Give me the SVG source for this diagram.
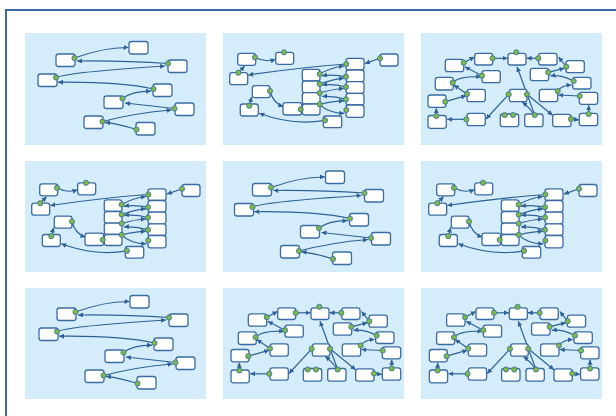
<svg xmlns="http://www.w3.org/2000/svg" xmlns:xlink="http://www.w3.org/1999/xlink" width="616" height="416" viewBox="0 0 616 416">
<style>
.bg{fill:#d5edfa}
.n{fill:#fff;stroke:#3a6ca3;stroke-width:1.3}
.d{fill:#7cbb45;stroke:#3a6ca3;stroke-width:0.8}
.e{fill:none;stroke:#2d6198;stroke-width:1.2;marker-end:url(#ah)}
</style>
<defs>
<marker id="ah" markerUnits="userSpaceOnUse" markerWidth="6" markerHeight="6" refX="5" refY="2.5" orient="auto"><path d="M0,0 L5,2.5 L0,5 z" fill="#2d6198"/></marker>

<g id="panelA">
<g id="A-edges">
<path class="e" d="M49.5,25 Q80,14 103.5,14.5"/>
<path class="e" d="M143,30.5 Q100,27.5 52,28"/>
<path class="e" d="M31,44.5 Q45,39 140,33"/>
<path class="e" d="M128.5,56 Q95,48.5 33,49.2"/>
<path class="e" d="M97.5,65.5 Q108,58 126,58.2"/>
<path class="e" d="M149.5,75.5 Q122,72.5 100,70"/>
<path class="e" d="M77.5,88.5 Q110,80 146.5,77"/>
<path class="e" d="M111.5,96.5 Q95,91 80,89.3"/>
</g>
<g id="A-n1"><rect class="n" x="104" y="8.5" width="19" height="12.5" rx="2.5"/></g>
<g id="A-n2"><rect class="n" x="31" y="21" width="19" height="12.5" rx="2.5"/><circle class="d" cx="49.5" cy="25" r="2.6"/></g>
<g id="A-n3"><rect class="n" x="143" y="27" width="19" height="12.5" rx="2.5"/><circle class="d" cx="143" cy="30.5" r="2.6"/></g>
<g id="A-n4"><rect class="n" x="13" y="41" width="19" height="12.5" rx="2.5"/><circle class="d" cx="31" cy="44.5" r="2.6"/></g>
<g id="A-n5"><rect class="n" x="128" y="51" width="19" height="12.5" rx="2.5"/><circle class="d" cx="128.5" cy="56" r="2.6"/></g>
<g id="A-n6"><rect class="n" x="79" y="63" width="19" height="12.5" rx="2.5"/><circle class="d" cx="97.5" cy="65.5" r="2.6"/></g>
<g id="A-n7"><rect class="n" x="150" y="70" width="19" height="12.5" rx="2.5"/><circle class="d" cx="149.5" cy="75.5" r="2.6"/></g>
<g id="A-n8"><rect class="n" x="59" y="83" width="19" height="12.5" rx="2.5"/><circle class="d" cx="77.5" cy="88.5" r="2.6"/></g>
<g id="A-n9"><rect class="n" x="111" y="89.5" width="19" height="12.5" rx="2.5"/><circle class="d" cx="111.5" cy="96.5" r="2.6"/></g>
</g>

<g id="panelB">
<g id="B-edges">
<path class="e" d="M32,24.3 Q42,30 52.5,26.3"/>
<path class="e" d="M15.3,39.7 L21.6,33.2"/>
<path class="e" d="M123.3,31 Q80,34 25.3,42"/>
<path class="e" d="M157,25.3 L142,30.6"/>
<path class="e" d="M96.7,41 Q108,34.5 121,33"/>
<path class="e" d="M123,43.7 Q110,41 99,42.8"/>
<path class="e" d="M96.7,51 Q110,46 121,45.3"/>
<path class="e" d="M123,54 Q110,50.5 99.2,52"/>
<path class="e" d="M96.7,60 Q110,56 121,55.5"/>
<path class="e" d="M123,66.3 Q110,62.5 99,63.5"/>
<path class="e" d="M96.7,71.3 Q110,68 121,67.8"/>
<path class="e" d="M96.7,71.3 Q105,80 121.3,80.3"/>
<path class="e" d="M47,58 Q50,70 60.3,73.7"/>
<path class="e" d="M26.3,72.7 L28.7,64"/>
<path class="e" d="M102,87.3 Q70,93 36.3,80.3"/>
</g>
<g id="B-n1"><rect class="n" x="14.7" y="20.3" width="18" height="12" rx="2.5"/><circle class="d" cx="32" cy="24.3" r="2.6"/></g>
<g id="B-n2"><rect class="n" x="52.7" y="19.3" width="18" height="12" rx="2.5"/><circle class="d" cx="61" cy="19.3" r="2.6"/></g>
<g id="B-n3"><rect class="n" x="157" y="21" width="18" height="12" rx="2.5"/><circle class="d" cx="157" cy="25.3" r="2.6"/></g>
<g id="B-n4"><rect class="n" x="6.7" y="39.7" width="18" height="12" rx="2.5"/><circle class="d" cx="15.3" cy="39.7" r="2.6"/></g>
<g id="B-r1"><rect class="n" x="123" y="25.3" width="18" height="11.7" rx="2.5"/><circle class="d" cx="123.3" cy="31" r="2.6"/></g>
<g id="B-r2"><rect class="n" x="123" y="37" width="18" height="11.7" rx="2.5"/><circle class="d" cx="123" cy="43.7" r="2.6"/></g>
<g id="B-r3"><rect class="n" x="123" y="48.7" width="18" height="11.6" rx="2.5"/><circle class="d" cx="123" cy="54" r="2.6"/></g>
<g id="B-r4"><rect class="n" x="123" y="60.3" width="18" height="11.7" rx="2.5"/><circle class="d" cx="123" cy="66.3" r="2.6"/></g>
<g id="B-r5"><rect class="n" x="123" y="72" width="18" height="12.3" rx="2.5"/><circle class="d" cx="123.3" cy="77" r="2.6"/></g>
<g id="B-l1"><rect class="n" x="79.3" y="36.3" width="17.7" height="11.7" rx="2.5"/><circle class="d" cx="96.7" cy="41" r="2.6"/></g>
<g id="B-l2"><rect class="n" x="79.3" y="48" width="17.7" height="11.7" rx="2.5"/><circle class="d" cx="96.7" cy="51" r="2.6"/></g>
<g id="B-l3"><rect class="n" x="79.3" y="59.7" width="17.7" height="11.3" rx="2.5"/><circle class="d" cx="96.7" cy="60" r="2.6"/></g>
<g id="B-l4"><rect class="n" x="79.3" y="71" width="17.7" height="11" rx="2.5"/><circle class="d" cx="96.7" cy="71.3" r="2.6"/></g>
<g id="B-n6"><rect class="n" x="29.3" y="52.7" width="17.7" height="12" rx="2.5"/><circle class="d" cx="47" cy="58" r="2.6"/></g>
<g id="B-n7"><rect class="n" x="17.3" y="71" width="18" height="12" rx="2.5"/><circle class="d" cx="26.3" cy="72.7" r="2.6"/></g>
<g id="B-n8"><rect class="n" x="60" y="69.7" width="18.7" height="12.3" rx="2.5"/><circle class="d" cx="77.7" cy="76.3" r="2.6"/></g>
<g id="B-n9"><rect class="n" x="100.3" y="83" width="18.4" height="11.7" rx="2.5"/><circle class="d" cx="102" cy="87.3" r="2.6"/></g>
</g>

<g id="panelC">
<g id="C-edges">
<path class="e" d="M42.7,29.7 L53.5,24"/>
<path class="e" d="M71.7,25.3 L86.6,25.3"/>
<path class="e" d="M117.3,25.3 L105.6,25.3"/>
<path class="e" d="M145.3,33.7 L137.6,24"/>
<path class="e" d="M127.3,39.3 L143.5,35.2"/>
<path class="e" d="M152.7,48 Q140,41.5 129.5,42.8"/>
<path class="e" d="M136.7,58 Q140,52.5 150.5,52"/>
<path class="e" d="M158.7,63 L137.4,62"/>
<path class="e" d="M167.7,81 L167.7,72.2"/>
<path class="e" d="M150,86 L158,87"/>
<path class="e" d="M61,42.7 L43.8,33.8"/>
<path class="e" d="M31.7,49.7 Q38,43 60.2,43.7"/>
<path class="e" d="M46,61 L32.8,52"/>
<path class="e" d="M24.3,68.7 L45.2,62.7"/>
<path class="e" d="M15.3,83 L15.3,75.2"/>
<path class="e" d="M45.3,86.3 L26.2,86.3"/>
<path class="e" d="M87.7,61.3 L65,86"/>
<path class="e" d="M113.7,82 L96,33.8"/>
<path class="e" d="M113.7,82 Q108,74 101.2,69"/>
<path class="e" d="M106,61.3 L131.6,82.2"/>
</g>
<g id="C-n1"><rect class="n" x="24.3" y="26.3" width="18.4" height="12.4" rx="2.5"/><circle class="d" cx="42.7" cy="29.7" r="2.6"/></g>
<g id="C-n2"><rect class="n" x="53.7" y="20.3" width="18" height="11.7" rx="2.5"/><circle class="d" cx="71.7" cy="25.3" r="2.6"/></g>
<g id="C-n3"><rect class="n" x="87" y="20.3" width="18" height="11.7" rx="2.5"/><circle class="d" cx="95.3" cy="19.3" r="2.6"/></g>
<g id="C-n4"><rect class="n" x="117.7" y="20.3" width="18.3" height="11.7" rx="2.5"/><circle class="d" cx="117.3" cy="25.3" r="2.6"/></g>
<g id="C-n5"><rect class="n" x="145" y="27.7" width="18.3" height="12" rx="2.5"/><circle class="d" cx="145.3" cy="33.7" r="2.6"/></g>
<g id="C-n6"><rect class="n" x="61" y="37.7" width="18.3" height="12" rx="2.5"/><circle class="d" cx="61" cy="42.7" r="2.6"/></g>
<g id="C-n7"><rect class="n" x="14.3" y="44.3" width="18" height="12.7" rx="2.5"/><circle class="d" cx="31.7" cy="49.7" r="2.6"/></g>
<g id="C-n8"><rect class="n" x="109.3" y="35.3" width="18.4" height="12.4" rx="2.5"/><circle class="d" cx="127.3" cy="39.3" r="2.6"/></g>
<g id="C-n9"><rect class="n" x="151.7" y="44.3" width="18.3" height="11.7" rx="2.5"/><circle class="d" cx="152.7" cy="48" r="2.6"/></g>
<g id="C-n10"><rect class="n" x="46" y="56.3" width="18.3" height="12.4" rx="2.5"/><circle class="d" cx="46" cy="61" r="2.6"/></g>
<g id="C-n11"><rect class="n" x="7" y="62" width="18" height="12.3" rx="2.5"/><circle class="d" cx="24.3" cy="68.7" r="2.6"/></g>
<g id="C-n12"><rect class="n" x="88.3" y="56.3" width="17.7" height="12.4" rx="2.5"/><circle class="d" cx="87.7" cy="61.3" r="2.6"/><circle class="d" cx="106" cy="61.3" r="2.6"/></g>
<g id="C-n13"><rect class="n" x="118.3" y="56.3" width="18.4" height="12.4" rx="2.5"/><circle class="d" cx="136.7" cy="58" r="2.6"/></g>
<g id="C-n14"><rect class="n" x="158.3" y="59.3" width="18.4" height="12" rx="2.5"/><circle class="d" cx="158.7" cy="63" r="2.6"/></g>
<g id="C-n15"><rect class="n" x="7" y="82.5" width="18.3" height="12.8" rx="2.5"/><circle class="d" cx="15.3" cy="83" r="2.6"/></g>
<g id="C-n16"><rect class="n" x="46" y="80.3" width="18.3" height="12.4" rx="2.5"/><circle class="d" cx="45.3" cy="86.3" r="2.6"/></g>
<g id="C-n17"><rect class="n" x="79.3" y="81" width="18.4" height="12.7" rx="2.5"/><circle class="d" cx="83.7" cy="82" r="2.6"/><circle class="d" cx="92" cy="82" r="2.6"/></g>
<g id="C-n18"><rect class="n" x="103.7" y="81" width="18.3" height="12.7" rx="2.5"/><circle class="d" cx="113.7" cy="82" r="2.6"/></g>
<g id="C-n19"><rect class="n" x="131.7" y="81.3" width="18.3" height="12.4" rx="2.5"/><circle class="d" cx="150" cy="86" r="2.6"/></g>
<g id="C-n20"><rect class="n" x="158.3" y="80.3" width="18.4" height="12.4" rx="2.5"/><circle class="d" cx="167.7" cy="81" r="2.6"/></g>
</g>
</defs>

<rect x="0" y="0" width="616" height="416" fill="#fff"/>
<rect x="6" y="10" width="640" height="440" fill="none" stroke="#3a6aa0" stroke-width="2"/>

<g id="backgrounds">
<rect class="bg" x="25" y="33" width="181" height="112"/>
<rect class="bg" x="223" y="33" width="181" height="112"/>
<rect class="bg" x="421" y="33" width="181" height="112"/>
<rect class="bg" x="25" y="161" width="181" height="111"/>
<rect class="bg" x="223" y="161" width="181" height="111"/>
<rect class="bg" x="421" y="161" width="181" height="111"/>
<rect class="bg" x="25" y="288" width="181" height="111"/>
<rect class="bg" x="223" y="288" width="181" height="111"/>
<rect class="bg" x="421" y="288" width="181" height="111"/>
</g>

<use id="p1" xlink:href="#panelA" href="#panelA" transform="translate(25,33)"/>
<use id="p2" xlink:href="#panelB" href="#panelB" transform="translate(223,33)"/>
<use id="p3" xlink:href="#panelC" href="#panelC" transform="translate(421,33)"/>
<use id="p4" xlink:href="#panelB" href="#panelB" transform="translate(25,163.5)"/>
<use id="p5" xlink:href="#panelA" href="#panelA" transform="translate(221.5,162.5)"/>
<use id="p6" xlink:href="#panelB" href="#panelB" transform="translate(422,163.5)"/>
<use id="p7" xlink:href="#panelA" href="#panelA" transform="translate(26,287)"/>
<use id="p8" xlink:href="#panelC" href="#panelC" transform="translate(224,287.5)"/>
<use id="p9" xlink:href="#panelC" href="#panelC" transform="translate(422.3,287.5)"/>
</svg>
